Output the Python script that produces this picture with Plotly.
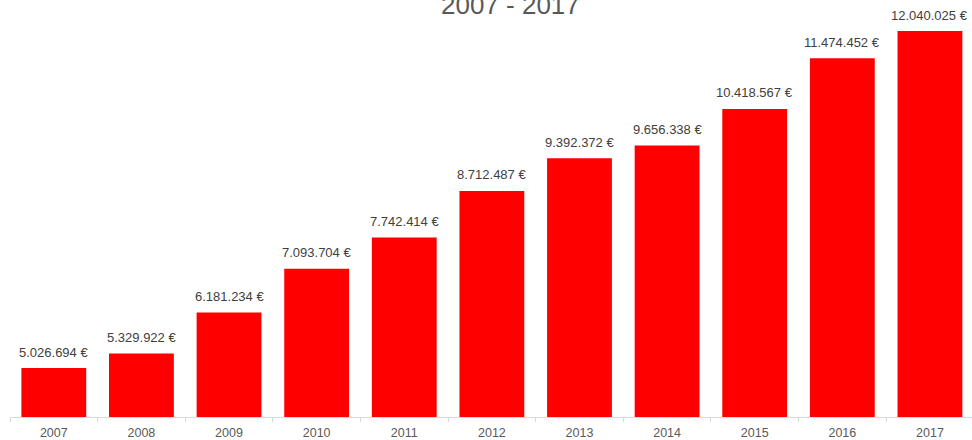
import plotly.graph_objects as go

years = ["2007", "2008", "2009", "2010", "2011", "2012", "2013", "2014", "2015", "2016", "2017"]
values = [5026694, 5329922, 6181234, 7093704, 7742414, 8712487, 9392372, 9656338, 10418567, 11474452, 12040025]
labels = ["5.026.694 €", "5.329.922 €", "6.181.234 €", "7.093.704 €", "7.742.414 €", "8.712.487 €",
          "9.392.372 €", "9.656.338 €", "10.418.567 €", "11.474.452 €", "12.040.025 €"]
title_text = "2007 - 2017"

fig = go.Figure()
fig.add_trace(go.Bar(x=years, y=values, marker=dict(color="#ff0000", line=dict(width=0)),
                     hoverinfo="skip"))

annotations = []
for i, (v, lb) in enumerate(zip(values, labels)):
    annotations.append(dict(x=i, y=v, xref="x", yref="y", text=lb, showarrow=False,
                            yanchor="middle", yshift=16,
                            font=dict(family="Liberation Sans", size=13, color="#404040")))
annotations.append(dict(x=0.52, y=1, xref="paper", yref="paper", text=title_text, showarrow=False,
                        yanchor="middle", yshift=15,
                        font=dict(family="Liberation Sans", size=26, color="#595959")))

y0 = 4007000
ymax = y0 + 397 / 48.05 * 1e6

fig.update_layout(
    width=972, height=440,
    margin=dict(l=10, r=0, t=20, b=23),
    paper_bgcolor="white", plot_bgcolor="white",
    bargap=0.26,
    showlegend=False,
    annotations=annotations,
    xaxis=dict(type="category", range=[-0.5, 10.48], showline=True, linecolor="#d9d9d9", linewidth=1,
               ticks="outside", tickson="boundaries", ticklen=4, tickcolor="#d9d9d9",
               ticklabelstandoff=4, automargin=False,
               showgrid=False, tickfont=dict(family="Liberation Sans", size=12.5, color="#595959")),
    yaxis=dict(range=[y0, ymax], visible=False, showgrid=False, automargin=False),
)

fig.write_html("out.html")
